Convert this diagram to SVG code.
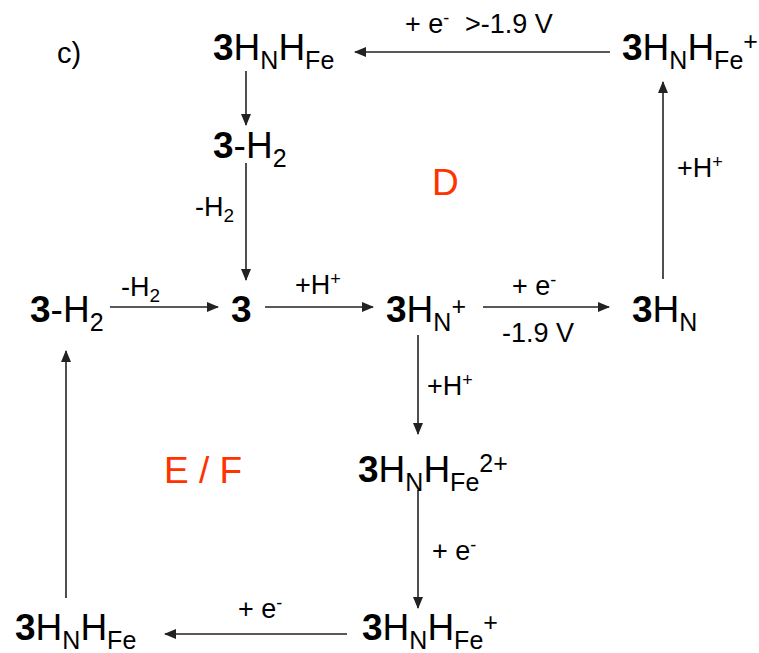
<svg xmlns="http://www.w3.org/2000/svg" width="759" height="653" viewBox="0 0 759 653">
<style>
text{font-family:"Liberation Sans",Arial,sans-serif;fill:#000}
.n{font-size:37px}
.b{font-weight:bold}
.s{font-size:25px}
.l{font-size:27px}
.ls{font-size:18px}
.ss{font-size:19px}
.r{font-size:37px;fill:#FF3300}
.c{stroke:#222;stroke-width:1.6;fill:none;marker-end:url(#ah)}
</style>
<defs>
<marker id="ah" markerUnits="userSpaceOnUse" markerWidth="12" markerHeight="10" refX="11" refY="5" orient="auto">
<path d="M0,0 L12,5 L0,10 Z" fill="#222"/>
</marker>
</defs>
<rect width="759" height="653" fill="#fff"/>
<text x="57" y="63" style="font-size:29px">c)</text>
<g id="connectors">
<line class="c" x1="610" y1="52" x2="355" y2="52"/>
<line class="c" x1="246" y1="71" x2="246" y2="125"/>
<line class="c" x1="246" y1="163" x2="246" y2="280"/>
<line class="c" x1="110" y1="307" x2="218" y2="307"/>
<line class="c" x1="265" y1="307" x2="373" y2="307"/>
<line class="c" x1="483" y1="307" x2="609" y2="307"/>
<line class="c" x1="663" y1="279" x2="663" y2="82"/>
<line class="c" x1="418" y1="335" x2="418" y2="434"/>
<line class="c" x1="418" y1="490" x2="418" y2="608"/>
<line class="c" x1="347" y1="634" x2="165" y2="634"/>
<line class="c" x1="66" y1="598" x2="66" y2="351"/>
</g>
<g id="labels">
<text class="l" x="405" y="33">+ e<tspan class="ls" y="24">-</tspan><tspan x="465" y="33">&gt;-1.9 V</tspan></text>
<text class="l" x="195" y="216">-H<tspan class="ss" y="222">2</tspan></text>
<text class="l" x="121" y="296">-H<tspan class="ss" y="302">2</tspan></text>
<text class="l" x="295" y="294">+H<tspan class="ls" y="285">+</tspan></text>
<text class="l" x="512" y="295">+ e<tspan class="ls" y="286">-</tspan></text>
<text class="l" x="502" y="342">-1.9 V</text>
<text class="l" x="677" y="177">+H<tspan class="ls" y="168">+</tspan></text>
<text class="l" x="427" y="395">+H<tspan class="ls" y="386">+</tspan></text>
<text class="l" x="432" y="560">+ e<tspan class="ls" y="551">-</tspan></text>
<text class="l" x="238" y="618">+ e<tspan class="ls" y="609">-</tspan></text>
<text class="r" x="432" y="195">D</text>
<text class="r" x="164" y="483">E / F</text>
</g>
<g id="n1"><text class="n" x="213" y="60"><tspan class="b">3</tspan>H<tspan class="s" y="69">N</tspan><tspan y="60">H</tspan><tspan class="s" y="69">Fe</tspan></text></g>
<g id="n2"><text class="n" x="213" y="158"><tspan class="b">3</tspan>-H<tspan class="s" y="167">2</tspan></text></g>
<g id="n3"><text class="n" x="30" y="322"><tspan class="b">3</tspan>-H<tspan class="s" y="331">2</tspan></text></g>
<g id="n4"><text class="n b" x="231" y="322">3</text></g>
<g id="n5"><text class="n" x="386" y="322"><tspan class="b">3</tspan>H<tspan class="s" y="331">N</tspan><tspan class="s" y="315">+</tspan></text></g>
<g id="n6"><text class="n" x="632" y="322"><tspan class="b">3</tspan>H<tspan class="s" y="331">N</tspan></text></g>
<g id="n7"><text class="n" x="622" y="60"><tspan class="b">3</tspan>H<tspan class="s" y="69">N</tspan><tspan y="60">H</tspan><tspan class="s" y="69">Fe</tspan><tspan class="s" y="50">+</tspan></text></g>
<g id="n8"><text class="n" x="358" y="482"><tspan class="b">3</tspan>H<tspan class="s" y="491">N</tspan><tspan y="482">H</tspan><tspan class="s" y="491">Fe</tspan><tspan class="s" y="472">2+</tspan></text></g>
<g id="n9"><text class="n" x="362" y="640"><tspan class="b">3</tspan>H<tspan class="s" y="649">N</tspan><tspan y="640">H</tspan><tspan class="s" y="649">Fe</tspan><tspan class="s" y="631">+</tspan></text></g>
<g id="n10"><text class="n" x="15" y="640"><tspan class="b">3</tspan>H<tspan class="s" y="649">N</tspan><tspan y="640">H</tspan><tspan class="s" y="649">Fe</tspan></text></g>
</svg>
